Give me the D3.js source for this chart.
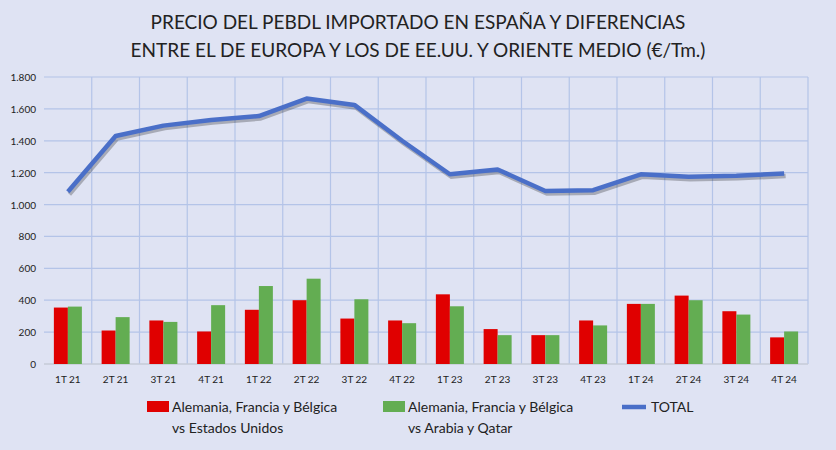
<!DOCTYPE html>
<html><head><meta charset="utf-8">
<script src="https://cdn.jsdelivr.net/npm/d3@7"></script>
<style>body{margin:0;background:#dfe3f3;font-family:Lato,"Open Sans",sans-serif}</style>
</head><body><svg width="836" height="450"></svg>
<script>
const categories = ["1T 21","2T 21","3T 21","4T 21","1T 22","2T 22","3T 22","4T 22","1T 23","2T 23","3T 23","4T 23","1T 24","2T 24","3T 24","4T 24"];
const vsUSA = [354,210,273,204,340,400,285,273,437,219,181,273,377,429,331,167];
const vsQatar = [360,294,264,369,489,535,406,256,362,181,181,242,377,400,310,204];
const total = [1080,1430,1495,1530,1555,1665,1625,1400,1190,1220,1085,1090,1190,1175,1180,1195];
const yTicks = [0,200,400,600,800,1000,1200,1400,1600,1800];

const svg = d3.select("svg");
const margin = {top:77, right:28, bottom:86, left:44};
const width = 836, height = 450;
svg.append("rect").attr("width",width).attr("height",height).attr("fill","#dfe3f3");

const x = d3.scaleBand().domain(categories).range([margin.left, width-margin.right]);
const y = d3.scaleLinear().domain([0,1800]).range([height-margin.bottom, margin.top]);

// grid
svg.append("g").selectAll("line").data(yTicks).enter().append("line")
  .attr("x1",margin.left).attr("x2",width-margin.right)
  .attr("y1",d=>y(d)).attr("y2",d=>y(d)).attr("stroke","#b4c4e8").attr("stroke-width",1.2);
svg.append("g").selectAll("line").data(categories.slice(1).concat(["end"])).enter().append("line")
  .attr("x1",(d,i)=>x.range()[0]+x.step()*(i+1)).attr("x2",(d,i)=>x.range()[0]+x.step()*(i+1))
  .attr("y1",margin.top).attr("y2",y(0)).attr("stroke","#b4c4e8").attr("stroke-width",1.2);
svg.append("line").attr("x1",margin.left).attr("x2",width-margin.right).attr("y1",y(0)).attr("y2",y(0))
  .attr("stroke","#d0d0d0").attr("stroke-width",1.2);

// y axis labels
svg.append("g").selectAll("text").data(yTicks).enter().append("text")
  .attr("x",margin.left-8).attr("y",d=>y(d)+4).attr("text-anchor","end")
  .attr("font-size",10).attr("fill","#222")
  .text(d=>d3.format(",")(d).replace(",","."));

// x labels
svg.append("g").selectAll("text").data(categories).enter().append("text")
  .attr("x",d=>x(d)+x.bandwidth()/2).attr("y",y(0)+19).attr("text-anchor","middle")
  .attr("font-size",10).attr("fill","#222").text(d=>d);

const bw = 14;
svg.append("g").selectAll("rect").data(vsUSA).enter().append("rect")
  .attr("x",(d,i)=>x(categories[i])+x.bandwidth()/2-bw).attr("width",bw)
  .attr("y",d=>y(d)).attr("height",d=>y(0)-y(d)).attr("fill","#e00000");
svg.append("g").selectAll("rect").data(vsQatar).enter().append("rect")
  .attr("x",(d,i)=>x(categories[i])+x.bandwidth()/2).attr("width",bw)
  .attr("y",d=>y(d)).attr("height",d=>y(0)-y(d)).attr("fill","#63ad52");

const line = d3.line().x((d,i)=>x(categories[i])+x.bandwidth()/2).y(d=>y(d));
svg.append("path").datum(total).attr("d",line).attr("fill","none")
  .attr("stroke","rgba(0,0,0,0.25)").attr("stroke-width",4.5).attr("transform","translate(1.5,2.5)");
svg.append("path").datum(total).attr("d",line).attr("fill","none")
  .attr("stroke","#4a6fc8").attr("stroke-width",4.5).attr("stroke-linejoin","round");

// title
svg.append("text").attr("x",418).attr("y",29).attr("text-anchor","middle").attr("font-size",19).attr("fill","#222")
  .text("PRECIO DEL PEBDL IMPORTADO EN ESPAÑA Y DIFERENCIAS");
svg.append("text").attr("x",418).attr("y",57).attr("text-anchor","middle").attr("font-size",19).attr("fill","#222")
  .text("ENTRE EL DE EUROPA Y LOS DE EE.UU. Y ORIENTE MEDIO (€/Tm.)");

// legend
const lg = svg.append("g").attr("font-size",14).attr("fill","#222");
lg.append("rect").attr("x",147).attr("y",401).attr("width",22).attr("height",11).attr("fill","#e00000");
lg.append("text").attr("x",172).attr("y",412).text("Alemania, Francia y Bélgica");
lg.append("text").attr("x",172).attr("y",433).text("vs Estados Unidos");
lg.append("rect").attr("x",383).attr("y",401).attr("width",22).attr("height",11).attr("fill","#63ad52");
lg.append("text").attr("x",408).attr("y",412).text("Alemania, Francia y Bélgica");
lg.append("text").attr("x",408).attr("y",433).text("vs Arabia y Qatar");
lg.append("line").attr("x1",622).attr("x2",646).attr("y1",407).attr("y2",407).attr("stroke","#4a6fc8").attr("stroke-width",4.5);
lg.append("text").attr("x",651).attr("y",412).text("TOTAL");
</script></body></html>
